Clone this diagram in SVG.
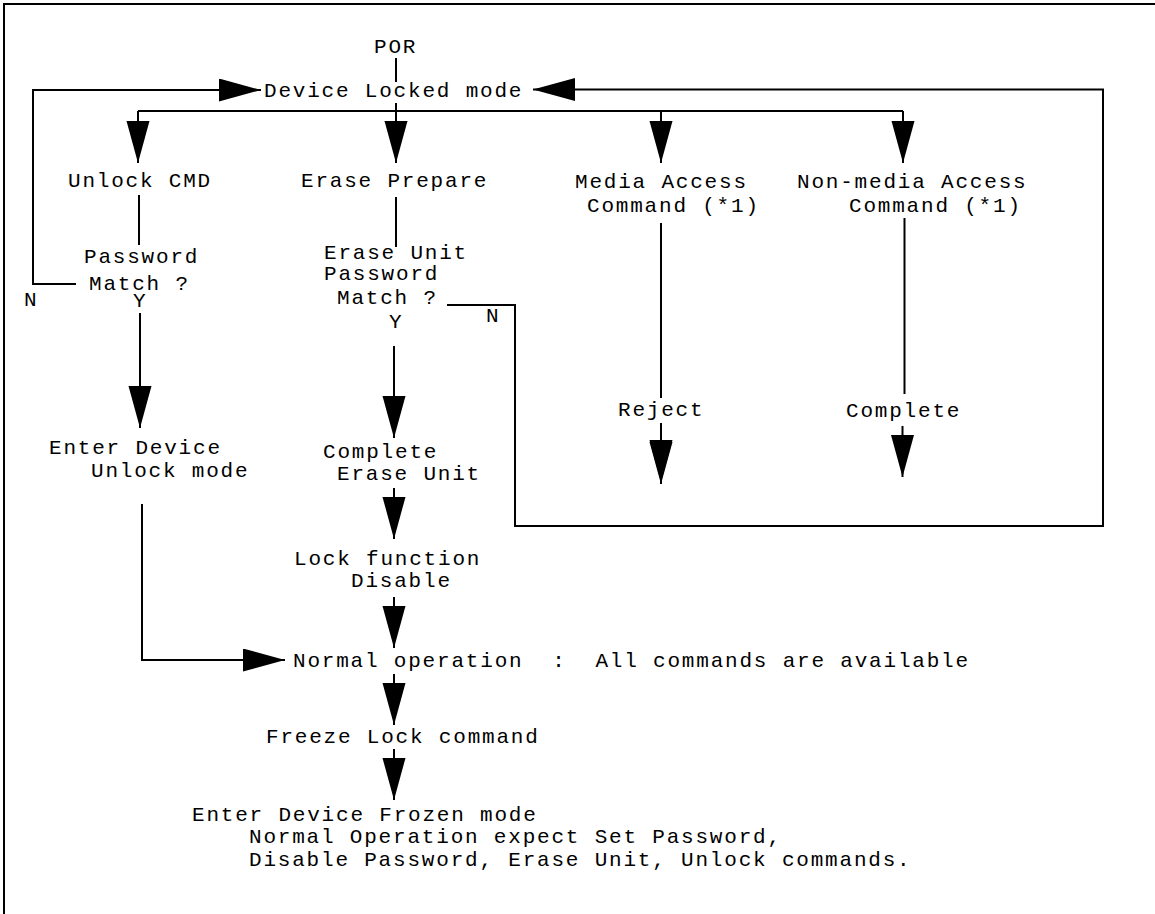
<svg xmlns="http://www.w3.org/2000/svg" width="1155" height="914" viewBox="0 0 1155 914">
<defs>
<style>
text{font-family:"Liberation Mono","Courier New",monospace;font-size:21px;letter-spacing:1.8px;fill:#000}
.c{fill:none;stroke:#000;stroke-width:2}
.a{marker-end:url(#ah)}
</style>
<marker id="ah" markerUnits="userSpaceOnUse" markerWidth="44" markerHeight="24" refX="42" refY="11.5" orient="auto">
<path d="M0,0 L42,11.5 L0,23 Z" fill="#000"/>
</marker>
</defs>
<rect width="1155" height="914" fill="#fff"/>
<g id="frame"><path class="c" d="M4,914 V4 H1155" stroke-width="2.5"/></g>
<g id="connectors">
<path class="c" d="M396,58 V82"/>
<path class="c a" d="M76,284 H33 V90 H261"/>
<path class="c a" d="M447,305 H515 V526 H1103 V89.5 H533"/>
<path class="c" d="M138,111 H903"/>
<path class="c a" d="M138,111 V163"/>
<path class="c a" d="M396,103 V163"/>
<path class="c a" d="M661,111 V163"/>
<path class="c a" d="M903,111 V163"/>
<path class="c" d="M139,195 V245"/>
<path class="c a" d="M140,313 V428"/>
<path class="c" d="M396,197 V247"/>
<path class="c a" d="M394,346 V438"/>
<path class="c a" d="M394,488 V539"/>
<path class="c a" d="M394,597 V648"/>
<path class="c a" d="M142,504 V660 H285"/>
<path class="c a" d="M394,674 V725"/>
<path class="c a" d="M394,749 V800"/>
<path class="c" d="M661,223 V398"/>
<path class="c a" d="M661,423 V482"/>
<path class="c a" d="M661,430 V484"/>
<path class="c" d="M904.5,218 V394"/>
<path class="c a" d="M902.5,426 V477"/>
</g>
<g id="n-por"><text x="374" y="53">POR</text></g>
<g id="n-locked"><text x="264" y="97">Device Locked mode</text></g>
<g id="n-unlock"><text x="68" y="187">Unlock CMD</text></g>
<g id="n-erase-prep"><text x="301" y="187">Erase Prepare</text></g>
<g id="n-media"><text x="575" y="188">Media Access</text><text x="587" y="212">Command (*1)</text></g>
<g id="n-nonmedia"><text x="797" y="188">Non-media Access</text><text x="849" y="212">Command (*1)</text></g>
<g id="n-pwmatch"><text x="84" y="263">Password</text><text x="89" y="290">Match ?</text><text x="24" y="306">N</text><text x="133" y="307">Y</text></g>
<g id="n-erase-match"><text x="324" y="259">Erase Unit</text><text x="324" y="280">Password</text><text x="337" y="304">Match ?</text><text x="486" y="322">N</text><text x="389" y="328">Y</text></g>
<g id="n-enter-unlock"><text x="49" y="454">Enter Device</text><text x="91" y="477">Unlock mode</text></g>
<g id="n-complete-erase"><text x="323" y="458">Complete</text><text x="337" y="480">Erase Unit</text></g>
<g id="n-lockfn"><text x="294" y="565">Lock function</text><text x="351" y="587">Disable</text></g>
<g id="n-reject"><text x="618" y="416">Reject</text></g>
<g id="n-complete"><text x="846" y="417">Complete</text></g>
<g id="n-normal"><text x="293" y="667" xml:space="preserve">Normal operation  :  All commands are available</text></g>
<g id="n-freeze"><text x="266" y="743">Freeze Lock command</text></g>
<g id="n-frozen"><text x="192" y="821">Enter Device Frozen mode</text><text x="249" y="843">Normal Operation expect Set Password,</text><text x="249" y="866">Disable Password, Erase Unit, Unlock commands.</text></g>
</svg>
